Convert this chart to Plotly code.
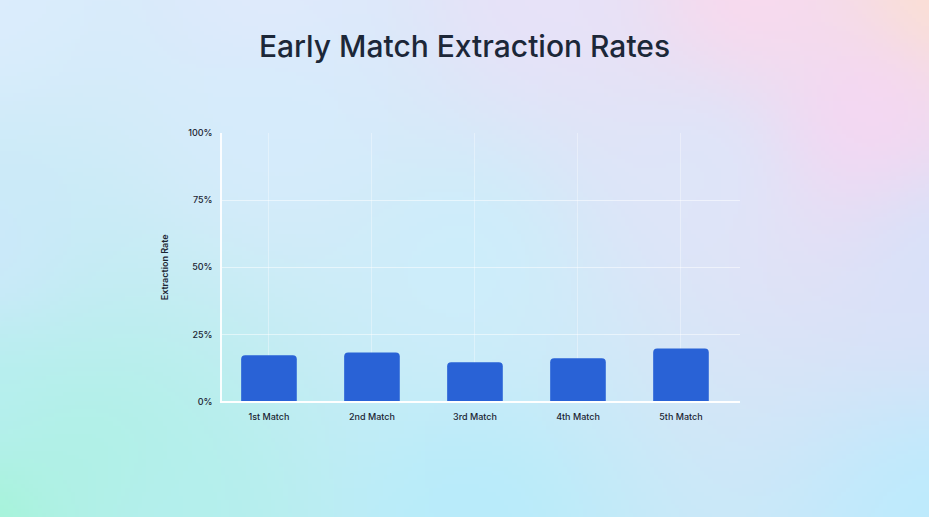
import base64, struct, zlib
import numpy as np
import plotly.graph_objects as go

# ---- data ----
categories = ["1st Match", "2nd Match", "3rd Match", "4th Match", "5th Match"]
extraction_rates = [0.172, 0.182, 0.146, 0.161, 0.197]
y_ticks = [0, 0.25, 0.5, 0.75, 1.0]
y_tick_labels = ["0%", "25%", "50%", "75%", "100%"]

W, H = 929, 517

# ---- soft pastel background (decorative) ----
def hex_rgb(h):
    h = h.lstrip("#")
    return [int(h[i:i + 2], 16) for i in (0, 2, 4)]

anchors = [
    (0.00, 0.00, "#dcedfd"), (0.30, 0.00, "#e0eafc"), (0.58, 0.00, "#e8e2f9"),
    (0.80, 0.00, "#fad9ee"), (1.00, 0.00, "#fde0d2"), (0.92, 0.22, "#f6d6f4"),
    (1.00, 0.50, "#d8e2fa"), (0.75, 0.32, "#dde6fa"), (0.50, 0.50, "#cdeefb"),
    (0.00, 0.50, "#cde9fb"), (0.00, 1.00, "#a2f6d4"), (0.18, 1.00, "#b4efee"),
    (0.50, 1.00, "#b8ecfb"), (1.00, 1.00, "#bdebfd"), (0.30, 0.25, "#d6ecfc"),
    (0.00, 0.78, "#b6eff0"), (0.10, 0.90, "#b0f1e6"),
]
iw, ih = 232, 129
xs = np.linspace(0, 1, iw)[None, :]
ys = np.linspace(0, 1, ih)[:, None]
num = np.zeros((ih, iw, 3))
den = np.zeros((ih, iw, 1))
for ax_, ay_, c in anchors:
    d2 = (xs - ax_) ** 2 + ((ys - ay_) * H / W) ** 2
    wgt = 1.0 / (d2 + 4e-3) ** 1.4
    num += wgt[..., None] * np.array(hex_rgb(c))[None, None, :]
    den += wgt[..., None]
img = np.clip(num / den, 0, 255).astype(np.uint8)

def to_png(a):
    h, w, _ = a.shape
    raw = b"".join(b"\x00" + a[r].tobytes() for r in range(h))
    def chunk(t, d):
        return struct.pack(">I", len(d)) + t + d + struct.pack(">I", zlib.crc32(t + d) & 0xffffffff)
    return (b"\x89PNG\r\n\x1a\n" + chunk(b"IHDR", struct.pack(">IIBBBBB", w, h, 8, 2, 0, 0, 0))
            + chunk(b"IDAT", zlib.compress(raw, 9)) + chunk(b"IEND", b""))

bg_src = "data:image/png;base64," + base64.b64encode(to_png(img)).decode()

# ---- figure ----
fig = go.Figure()
fig.add_trace(go.Bar(
    x=categories, y=extraction_rates, width=0.54,
    marker=dict(color="#2962d6", cornerradius=4, line=dict(width=0)),
    hovertemplate="%{x}: %{y:.1%}<extra></extra>",
))

x0, x1 = 222 / W, 740 / W
y0, y1 = 1 - 404 / H, 1 - 130 / H

fig.update_layout(
    width=W, height=H,
    margin=dict(l=0, r=0, t=0, b=0),
    paper_bgcolor="#d4ecfb",
    plot_bgcolor="rgba(0,0,0,0)",
    images=[dict(source=bg_src, xref="paper", yref="paper", x=-0.02, y=1.03,
                 sizex=1.04, sizey=1.06, sizing="stretch", layer="below")],
    title=dict(text="Early Match Extraction Rates", x=0.5, xanchor="center",
               y=1 - 46 / H, yanchor="middle",
               font=dict(family="Inter, Noto Sans, sans-serif", size=30, weight=500, color="#1c2738")),
    font=dict(family="Inter, Noto Sans, sans-serif", color="#1c2533"),
    showlegend=False,
    xaxis=dict(domain=[x0, x1], type="category", range=[-0.456, 4.573],
               showgrid=True, gridcolor="rgba(255,255,255,0.35)", gridwidth=1,
               showline=True, linecolor="white", linewidth=2,
               ticks="", tickfont=dict(size=9, weight=500, color="#1c2533"),
               ticklabelstandoff=6, fixedrange=True),
    yaxis=dict(domain=[y0, y1], range=[0, 1], tickvals=y_ticks, ticktext=y_tick_labels,
               showgrid=True, gridcolor="rgba(255,255,255,0.5)", gridwidth=1,
               showline=True, linecolor="rgba(255,255,255,0.9)", linewidth=1.5,
               zeroline=False, ticks="", ticklabelstandoff=6,
               tickfont=dict(size=9, weight=500, color="#1c2533"),
               title=dict(text="Extraction Rate", standoff=18,
                          font=dict(size=9, weight=600, color="#1c2533")),
               fixedrange=True),
)

fig.write_html("out.html", config={"displayModeBar": False})
